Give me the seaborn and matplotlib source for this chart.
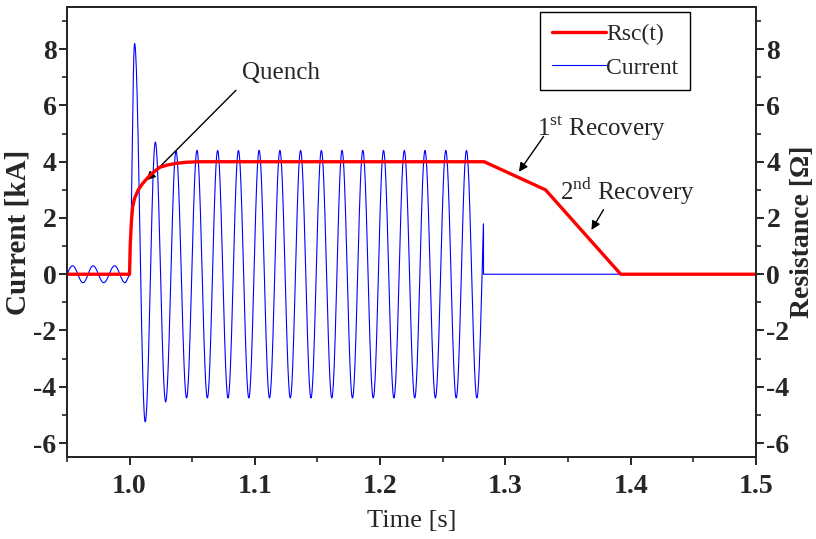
import numpy as np
import pandas as pd
import matplotlib.pyplot as plt
import seaborn as sns
from matplotlib.ticker import MultipleLocator

# extrema of the current waveform (time [s], current [kA])
ext_t = [0.9460, 0.9545, 0.9629, 0.9709, 0.9794, 0.9881, 0.9964, 1.0000, 1.0040,
         1.0125, 1.0206, 1.0288, 1.0371,
         1.0455, 1.0538, 1.0621, 1.0703, 1.0786, 1.0869, 1.0952, 1.1034, 1.1117,
         1.1200, 1.1283, 1.1365, 1.1448, 1.1531, 1.1614, 1.1696, 1.1779, 1.1862,
         1.1945, 1.2027, 1.2110, 1.2193, 1.2276, 1.2358, 1.2441, 1.2524, 1.2607,
         1.2689, 1.2772, 1.2855]
ext_i = [-0.30, 0.30, -0.30, 0.30, -0.30, 0.30, -0.30, -0.05, 8.20,
         -5.25, 4.70, -4.54, 4.38,
         -4.40, 4.40, -4.40, 4.40, -4.40, 4.40, -4.40, 4.40, -4.40,
         4.40, -4.40, 4.40, -4.40, 4.40, -4.40, 4.40, -4.40, 4.40,
         -4.40, 4.40, -4.40, 4.40, -4.40, 4.40, -4.40, 4.40, -4.40,
         4.40, -4.40, 4.40]
cut_t = 1.2825      # breaker opens here
cut_i = 1.54
end_t = 1.5

# resistance Rsc(t) [ohm]
rsc_t = [0.95, 1.0, 1.0005, 1.0015, 1.0025, 1.004, 1.007, 1.010, 1.0127, 1.017,
         1.024, 1.030, 1.037, 1.045, 1.055, 1.283, 1.332, 1.392, 1.5]
rsc_v = [0.0, 0.0, 1.0, 1.9, 2.4, 2.7, 3.0, 3.2, 3.34, 3.55,
         3.8, 3.88, 3.94, 3.98, 4.0, 4.0, 3.0, 0.0, 0.0]

# smooth half-cosine shape between successive extrema
tt, ii = [], []
for k in range(len(ext_t) - 1):
    s = np.linspace(0, 1, 30, endpoint=False)
    tt.extend(ext_t[k] + (ext_t[k + 1] - ext_t[k]) * s)
    ii.extend(ext_i[k] + (ext_i[k + 1] - ext_i[k]) * (1 - np.cos(np.pi * s)) / 2)
tt = np.array(tt)
ii = np.array(ii)
keep = tt < cut_t
cur = pd.DataFrame({'t': np.r_[tt[keep], cut_t, cut_t, end_t],
                    'i': np.r_[ii[keep], cut_i, 0.0, 0.0]})
res = pd.DataFrame({'t': rsc_t, 'r': rsc_v})

sns.set_style("ticks")
plt.rcParams['font.family'] = ['Liberation Serif', 'DejaVu Serif']
plt.rcParams['mathtext.fontset'] = 'custom'
plt.rcParams['mathtext.rm'] = 'Liberation Serif'
plt.rcParams['axes.linewidth'] = 1.4
plt.rcParams['axes.unicode_minus'] = False

fig, ax = plt.subplots(figsize=(8.16, 5.39), dpi=100)
fig.subplots_adjust(left=0.082, right=0.9265, top=0.987, bottom=0.152)

sns.lineplot(data=cur, x='t', y='i', ax=ax, color='blue', lw=0.8,
             sort=False, estimator=None, label='Current')
ax2 = ax.twinx()
sns.lineplot(data=res, x='t', y='r', ax=ax2, color='red', lw=2.4,
             sort=False, estimator=None, label='Rsc(t)')

for a in (ax, ax2):
    a.set_ylim(-6.5, 9.5)
    a.yaxis.set_major_locator(MultipleLocator(2))
    a.yaxis.set_minor_locator(MultipleLocator(1))
    a.tick_params(which='major', length=6, width=1.4, labelsize=20, pad=1.5)
    a.tick_params(which='minor', length=3.5, width=1.2)
    for lab in a.get_yticklabels():
        lab.set_fontweight('bold')
ax.set_xlim(0.95, 1.5)
ax.xaxis.set_minor_locator(MultipleLocator(0.05))
ax.set_xticks([1.0, 1.1, 1.2, 1.3, 1.4, 1.5])
ax.set_xticklabels(['1.0', '1.1', '1.2', '1.3', '1.4', '1.5'], fontweight='bold')
ax.tick_params(axis='x', pad=6)

ax.set_xlabel('Time [s]', fontsize=19, labelpad=8)
ax.set_ylabel('Current [kA]', fontsize=21, fontweight='bold', labelpad=1)
ax2.set_ylabel('Resistance [Ω]', fontsize=20, fontweight='bold', labelpad=0)

# annotations
akw = dict(arrowstyle='-|>', color='black', lw=1.0, mutation_scale=13)
ax.annotate('', xy=(1.0119, 3.27), xytext=(1.0865, 6.61), arrowprops=akw)
ax.text(1.1206, 7.15, 'Quench', fontsize=18, ha='center', va='center')
ax.annotate('', xy=(1.3095, 3.56), xytext=(1.3317, 4.98), arrowprops=akw)
ax.text(1.377, 5.2, r'1$^{\mathrm{st}}$ Recovery', fontsize=18, ha='center', va='center')
ax.annotate('', xy=(1.3675, 1.49), xytext=(1.3794, 2.38), arrowprops=akw)
ax.text(1.397, 2.95, r'2$^{\mathrm{nd}}$ Recovery', fontsize=18, ha='center', va='center')

# combined legend
h1, l1 = ax.get_legend_handles_labels()
h2, l2 = ax2.get_legend_handles_labels()
ax.get_legend().remove()
ax2.get_legend().remove()
leg = ax2.legend(h2 + h1, l2 + l1, loc='upper right', bbox_to_anchor=(0.904, 0.989),
                 borderaxespad=0, fontsize=17, handlelength=2.3, handletextpad=0.0,
                 borderpad=0.5, labelspacing=0.5, fancybox=False, framealpha=1,
                 edgecolor='black')
leg.get_frame().set_linewidth(1.0)

fig.savefig('out.png', dpi=100)
